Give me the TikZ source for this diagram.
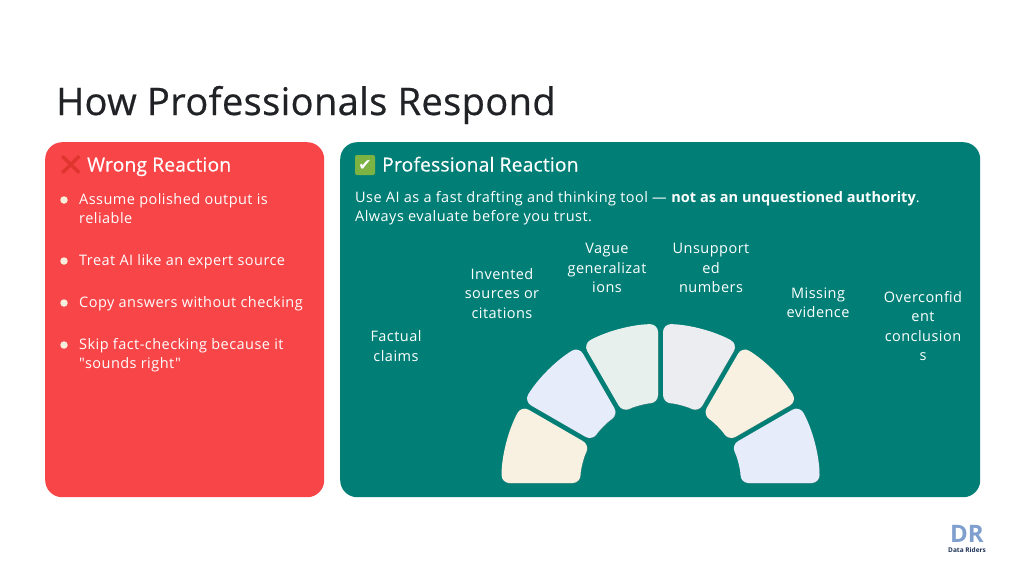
\documentclass[tikz,border=0pt]{standalone}
\usepackage{fontspec}
\setmainfont{Open Sans}
\newfontfamily\emojifont{Noto Emoji}
\newfontfamily\symbolfont{DejaVu Sans}
\newfontfamily\spacedfont[LetterSpace=3.2,BoldFont={Open Sans Bold},BoldFeatures={LetterSpace=0.3}]{Open Sans}
\newfontfamily\titlefont[LetterSpace=1.0,FakeBold=0.6]{Open Sans}
\newfontfamily\headfont[LetterSpace=0.8,FakeBold=0.4]{Open Sans}
\usetikzlibrary{positioning,calc,shadows}
\definecolor{wrongred}{HTML}{F84548}
\definecolor{crossred}{HTML}{E0352F}
\definecolor{proteal}{HTML}{017F76}
\definecolor{inkdark}{HTML}{202226}
\definecolor{bulletcream}{HTML}{FAEDDC}
\definecolor{checkgreen}{HTML}{7CB342}
\definecolor{sectorcream}{HTML}{F8F0E0}
\definecolor{sectorblue}{HTML}{E6ECF9}
\definecolor{sectormint}{HTML}{E8F0EE}
\definecolor{sectorgrey}{HTML}{ECEDF1}
\definecolor{logoblue}{HTML}{7F9FCE}
\definecolor{logonavy}{HTML}{1F3358}

\begin{document}
\begin{tikzpicture}[
    x=1pt, y=1pt,
    % Define styles for panels and texts
    panel/.style={
        rectangle,
        rounded corners=17pt,
        anchor=north west,
        inner sep=0pt
    },
    heading/.style={
        anchor=base west,
        text=white,
        inner sep=0pt,
        font=\headfont\fontsize{19.3}{23}\selectfont
    },
    body/.style={
        anchor=north west,
        align=left,
        text=white,
        inner sep=0pt,
        font=\spacedfont\fontsize{14.5}{19.5}\selectfont
    },
    dotmark/.style={
        circle,
        fill=bulletcream,
        inner sep=0pt,
        minimum size=7.5pt
    },
    label/.style={
        align=center,
        text=white,
        inner sep=0pt,
        font=\spacedfont\fontsize{14.5}{19.5}\selectfont
    },
    sector/.style={
        rounded corners=8pt,
        drop shadow={shadow xshift=0.5pt, shadow yshift=-0.6pt, opacity=0.35}
    }
]

\useasboundingbox (0,0) rectangle (1024,-576);
\fill[white] (0,0) rectangle (1024,-576);

% Title
\node[anchor=base west, inner sep=0pt, text=inkdark,
      font=\titlefont\fontsize{38}{44}\selectfont] (title) at (56,-115) {How Professionals Respond};

% Panels
\node[panel, fill=wrongred, minimum width=279pt, minimum height=355pt] (wrong) at (45,-142) {};
\node[panel, fill=proteal, minimum width=640pt, minimum height=355pt] (pro) at (340,-142) {};

% Left panel
\node[anchor=center, inner sep=0pt, text=crossred, font=\emojifont\fontsize{19}{23}\selectfont] (crossicon) at (71,-165) {❌};
\node[heading] (wrongtitle) at (87,-171.5) {Wrong Reaction};

\node[dotmark] (dot1) at (64,-200) {};
\node[dotmark] (dot2) at (64,-261) {};
\node[dotmark] (dot3) at (64,-303) {};
\node[dotmark] (dot4) at (64,-345) {};
\node[body] (item1) at (79,-193) {Assume polished output is\\reliable};
\node[body] (item2) at (79,-254) {Treat AI like an expert source};
\node[body] (item3) at (79,-296) {Copy answers without checking};
\node[body] (item4) at (79,-338) {Skip fact-checking because it\\\symbol{34}sounds right\symbol{34}};

% Right panel
\node[rectangle, rounded corners=2pt, fill=checkgreen, text=white, inner sep=0pt,
      minimum size=20pt, font=\symbolfont\bfseries\fontsize{16}{16}\selectfont] (checkicon) at (365,-165) {✔};
\node[heading] (protitle) at (382,-171.5) {Professional Reaction};
\node[body] (intro) at (355,-191) {Use AI as a fast drafting and thinking tool — \textbf{not as an unquestioned authority}.\\Always evaluate before you trust.};

% Labels over the arch
\node[label] (claims) at (396,-346) {Factual\\claims};
\node[label] (sources) at (502,-293.5) {Invented\\sources or\\citations};
\node[label] (vague) at (607,-268) {Vague\\generalizat\\ions};
\node[label] (numbers) at (711,-268) {Unsupport\\ed\\numbers};
\node[label] (evidence) at (818,-302.5) {Missing\\evidence};
\node[label] (conclusions) at (923,-326) {Overconfid\\ent\\conclusion\\s};

% Arch of sectors
\coordinate (hub) at (660.5,-483);
\foreach \from/\to/\shade in {180/150/sectorcream, 150/120/sectorblue, 120/90/sectormint,
                              90/60/sectorgrey, 60/30/sectorcream, 30/0/sectorblue} {
    \pgfmathsetmacro{\outA}{\from-(\from==180 ? 0 : 0.9)}
    \pgfmathsetmacro{\outB}{\to+(\to==0 ? 0 : 0.9)}
    \pgfmathsetmacro{\inA}{\from-(\from==180 ? 0 : 1.8)}
    \pgfmathsetmacro{\inB}{\to+(\to==0 ? 0 : 1.8)}
    \fill[sector, fill=\shade]
        ($(hub)+(\outA:159pt)$) arc[start angle=\outA, end angle=\outB, radius=159pt]
        -- ($(hub)+(\inB:80pt)$) arc[start angle=\inB, end angle=\inA, radius=80pt]
        -- cycle;
}

% Logo
\node[inner sep=0pt, text=logoblue, text height=18pt, text depth=0pt,
      font=\bfseries\fontsize{24}{24}\selectfont] (logomark) at (967,-533) {DR};
\node[below=5pt of logomark, inner sep=0pt, text=logonavy, font=\bfseries\fontsize{6.5}{8}\selectfont] (logotext) {Data Riders};

\end{tikzpicture}
\end{document}
